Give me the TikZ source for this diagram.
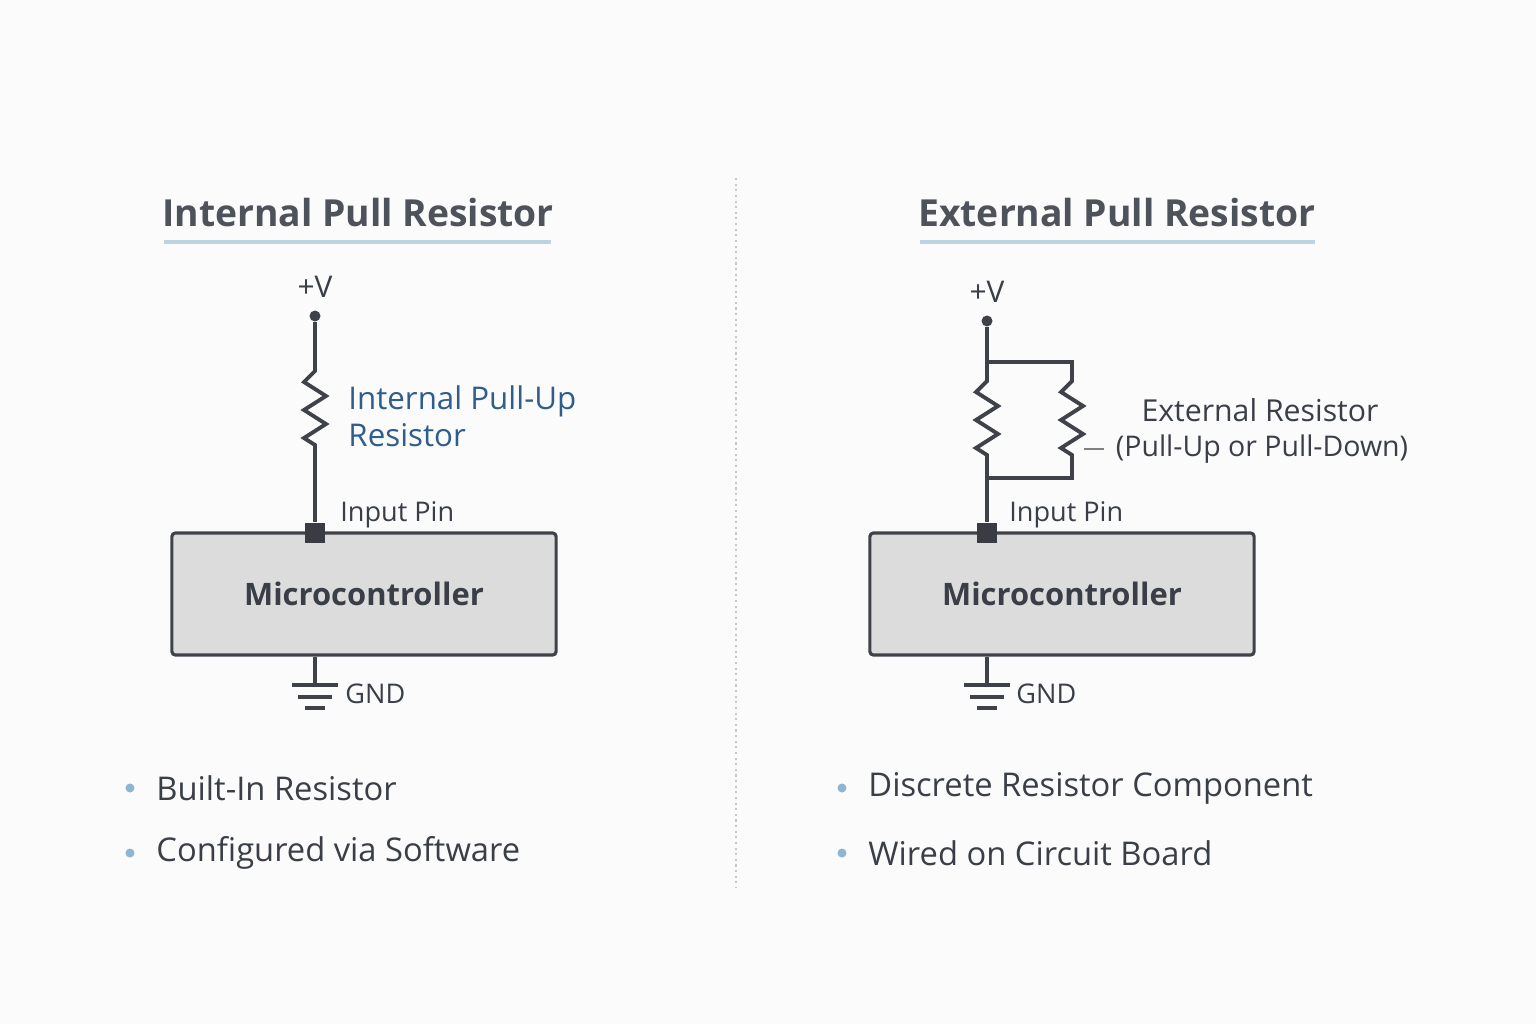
\documentclass[tikz,border=0pt]{standalone}
\usepackage{fontspec}
\setmainfont{Open Sans}
\usetikzlibrary{positioning}
\definecolor{ink}{HTML}{3A3F47}
\definecolor{wire}{HTML}{3F4349}
\definecolor{accent}{HTML}{2F5E8C}
\definecolor{rule}{HTML}{BCD3E3}
\definecolor{bullet}{HTML}{8DB6D3}
\definecolor{boxfill}{HTML}{DCDCDD}
\tikzset{
  title/.style={font=\fontsize{10.6}{12}\selectfont\bfseries, text=ink!90},
  wire/.style={draw=wire, line width=1.1pt},
  mcu/.style={draw=wire, fill=boxfill, line width=0.9pt, rounded corners=1pt,
    minimum width=3.84cm, minimum height=1.22cm, inner sep=0pt,
    font=\fontsize{8.8}{10}\selectfont\bfseries, text=ink},
  pin/.style={fill=wire!90!black, minimum size=0.2cm, inner sep=0pt},
  small/.style={font=\fontsize{7.7}{9}\selectfont, text=ink},
  item/.style={font=\fontsize{9.3}{11}\selectfont, text=ink, anchor=west},
  dot/.style={circle, fill=bullet, minimum size=0.09cm, inner sep=0pt},
  zig/.pic={\draw[wire, line join=miter] (0,0) -- (0,6) -- (-11,17) -- (11,31)
    -- (-11,45) -- (11,59) -- (-11,73) -- (0,80) -- (0,86);}
}
\begin{document}
\begin{tikzpicture}[x=0.01cm,y=-0.01cm]
  % Canvas
  \fill[white!97!gray] (0,0) rectangle (1536,1024);
  \useasboundingbox (0,0) rectangle (1536,1024);
  \draw[gray!45, densely dotted, line width=0.6pt] (736,178) -- (736,888);

  % Titles
  \node[title] (tin) at (358,213) {Internal Pull Resistor};
  \node[title] (tex) at (1117,213) {External Pull Resistor};
  \draw[rule, line width=1.3pt] (164,242) -- (551,242);
  \draw[rule, line width=1.3pt] (920,242) -- (1315,242);

  % Left circuit
  \node[mcu] (mcl) at (364,594) {Microcontroller};
  \node[pin] (pl) at (315,533) {};
  \node[small, anchor=west] (ipl) at (328,515) {Input Pin};
  \node[circle, fill=wire, inner sep=0pt, minimum size=0.11cm] (vl) at (315,316) {};
  \node[small, font=\fontsize{8.5}{10}\selectfont, above=0cm of vl] {+V};
  \coordinate (rlt) at (315,365);
  \coordinate (rlb) at (315,451);
  \draw[wire] (vl) -- (rlt);
  \pic at (rlt) {zig};
  \draw[wire] (rlb) -- (pl);
  \node[anchor=west, align=left, text=accent, font=\fontsize{8.9}{10.4}\selectfont] (rl) at (336,416)
    {Internal Pull-Up\\Resistor};
  \coordinate (gl) at (315,685);
  \draw[wire] (mcl.south -| gl) -- (gl);
  \draw[wire] (292,685) -- (338,685) (298,697) -- (332,697) (305,708) -- (325,708);
  \node[small, anchor=west] (gndl) at (333,694) {GND};

  % Right circuit
  \node[mcu] (mcr) at (1062,594) {Microcontroller};
  \node[pin] (pr) at (987,533) {};
  \node[small, anchor=west] (ipr) at (997,515) {Input Pin};
  \node[circle, fill=wire, inner sep=0pt, minimum size=0.11cm] (vr) at (987,321) {};
  \node[small, font=\fontsize{8.5}{10}\selectfont, above=0cm of vr] {+V};
  \coordinate (jt) at (987,362);
  \coordinate (jb) at (987,478);
  \draw[wire] (vr) -- (jt) -- (987,375);
  \pic at (987,375) {zig};
  \draw[wire] (987,461) -- (jb) -- (pr);
  \draw[wire] (jt) -- (1072,362) -- (1072,375);
  \pic at (1072,375) {zig};
  \draw[wire] (1072,461) -- (1072,478) -- (jb);
  \node[anchor=center, text=ink, font=\fontsize{8.6}{10}\selectfont] (erl) at (1260,410) {External Resistor};
  \node[anchor=center, text=ink, font=\fontsize{8.1}{10}\selectfont] (erp) at (1262,449) {(Pull-Up or Pull-Down)};
  \draw[gray, line width=0.4pt] (1084,449) -- (erp.west);
  \coordinate (gr) at (987,685);
  \draw[wire] (mcr.south -| gr) -- (gr);
  \draw[wire] (964,685) -- (1010,685) (970,697) -- (1004,697) (977,708) -- (997,708);
  \node[small, anchor=west] (gndr) at (1004,694) {GND};

  % Bullets
  \node[dot] at (130,788) {};
  \node[item] (b1) at (144,788) {Built-In Resistor};
  \node[dot] at (130,853) {};
  \node[item] (b2) at (144,853) {Configured via Software};
  \node[dot] at (842,788) {};
  \node[item] (b3) at (856,788) {Discrete Resistor Component};
  \node[dot] at (842,853) {};
  \node[item] (b4) at (856,853) {Wired on Circuit Board};
\end{tikzpicture}
\end{document}
